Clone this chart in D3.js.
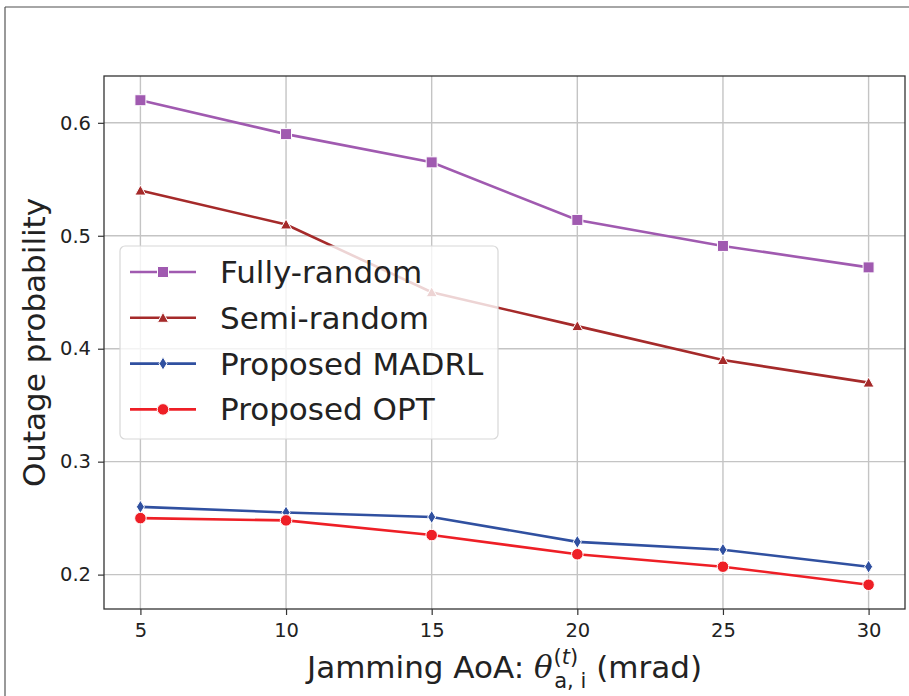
<!DOCTYPE html>
<html>
<head>
<meta charset="utf-8">
<script src="https://cdn.jsdelivr.net/npm/d3@7"></script>
<style>
  body { margin: 0; background: #fff; }
  svg text { font-family: "DejaVu Sans", sans-serif; fill: #222; }
</style>
</head>
<body>
<svg id="chart" width="909" height="696"></svg>
<script>
// jamming AoA (mrad)
const aoa = [5, 10, 15, 20, 25, 30];
const fullyRandom = [0.62, 0.59, 0.565, 0.514, 0.491, 0.472];
const semiRandom = [0.54, 0.51, 0.45, 0.42, 0.39, 0.37];
const proposedMadrl = [0.26, 0.255, 0.251, 0.229, 0.222, 0.207];
const proposedOpt = [0.25, 0.248, 0.235, 0.218, 0.207, 0.191];
const seriesNames = ["Fully-random", "Semi-random", "Proposed MADRL", "Proposed OPT"];
const xTicks = [5, 10, 15, 20, 25, 30];
const yTicks = [0.2, 0.3, 0.4, 0.5, 0.6];

const series = [
  {name: seriesNames[0], values: fullyRandom, color: "#a05ab0", marker: "square"},
  {name: seriesNames[1], values: semiRandom, color: "#a52a2a", marker: "triangle"},
  {name: seriesNames[2], values: proposedMadrl, color: "#3050a0", marker: "diamond"},
  {name: seriesNames[3], values: proposedOpt, color: "#ee1f26", marker: "circle"}
];

const svg = d3.select("#chart");
const m = {left: 104, right: 905, top: 76, bottom: 609};

// outer frame (only top and left visible)
svg.append("line").attr("x1", 5).attr("x2", 909).attr("y1", 7).attr("y2", 7)
  .attr("stroke", "#888").attr("stroke-width", 1.5);
svg.append("line").attr("x1", 5).attr("x2", 5).attr("y1", 7).attr("y2", 696)
  .attr("stroke", "#555").attr("stroke-width", 1.2);

const allVals = series.flatMap(s => s.values);
const ymin = d3.min(allVals), ymax = d3.max(allVals);
const ypad = (ymax - ymin) * 0.05;
const xpad = (d3.max(aoa) - d3.min(aoa)) * 0.05;

const x = d3.scaleLinear().domain([d3.min(aoa) - xpad, d3.max(aoa) + xpad]).range([m.left, m.right]);
const y = d3.scaleLinear().domain([ymin - ypad, ymax + ypad]).range([m.bottom, m.top]);

// grid
const grid = svg.append("g");
grid.selectAll(".gx").data(xTicks).enter().append("line")
  .attr("x1", d => x(d)).attr("x2", d => x(d)).attr("y1", m.top).attr("y2", m.bottom)
  .attr("stroke", "#c4c4c4").attr("stroke-width", 1.4);
grid.selectAll(".gy").data(yTicks).enter().append("line")
  .attr("y1", d => y(d)).attr("y2", d => y(d)).attr("x1", m.left).attr("x2", m.right)
  .attr("stroke", "#c4c4c4").attr("stroke-width", 1.4);

// axes
const xAxis = svg.append("g").attr("transform", "translate(0," + m.bottom + ")")
  .call(d3.axisBottom(x).tickValues(xTicks).tickSize(6).tickPadding(8).tickFormat(d3.format("d")));
const yAxis = svg.append("g").attr("transform", "translate(" + m.left + ",0)")
  .call(d3.axisLeft(y).tickValues(yTicks).tickSize(6).tickPadding(7).tickFormat(d3.format(".1f")));
[xAxis, yAxis].forEach(a => {
  a.select(".domain").remove();
  a.selectAll(".tick line").attr("stroke", "#333").attr("stroke-width", 1.2);
  a.selectAll(".tick text").style("font-size", "19.5px").attr("fill", "#222");
});

// spines
svg.append("rect").attr("x", m.left).attr("y", m.top)
  .attr("width", m.right - m.left).attr("height", m.bottom - m.top)
  .attr("fill", "none").attr("stroke", "#333").attr("stroke-width", 1.3);

function markerPath(type) {
  if (type === "square") return "M-5.5,-5.5H5.5V5.5H-5.5Z";
  if (type === "triangle") return "M0,-5.5L5.5,4.5L-5.5,4.5Z";
  if (type === "diamond") return "M0,-6.5L4,0L0,6.5L-4,0Z";
  return d3.symbol().type(d3.symbolCircle).size(105)();
}

const line = d3.line().x((d, i) => x(aoa[i])).y(d => y(d));
const plot = svg.append("g");
series.forEach(s => {
  plot.append("path").datum(s.values).attr("d", line)
    .attr("fill", "none").attr("stroke", s.color).attr("stroke-width", 2.6);
  plot.selectAll(null).data(s.values).enter().append("path")
    .attr("transform", (d, i) => "translate(" + x(aoa[i]) + "," + y(d) + ")")
    .attr("d", markerPath(s.marker))
    .attr("fill", s.color).attr("stroke", "#fff").attr("stroke-width", 1);
});

// legend
const lg = svg.append("g").attr("transform", "translate(120,246)");
lg.append("rect").attr("width", 378).attr("height", 193).attr("rx", 5)
  .attr("fill", "#fff").attr("fill-opacity", 0.8).attr("stroke", "#d8d8d8").attr("stroke-width", 1.2);
series.forEach((s, i) => {
  const yy = 26 + i * 45.8;
  lg.append("line").attr("x1", 10).attr("x2", 76).attr("y1", yy).attr("y2", yy)
    .attr("stroke", s.color).attr("stroke-width", 2.6);
  lg.append("path").attr("transform", "translate(43," + yy + ")")
    .attr("d", markerPath(s.marker)).attr("fill", s.color).attr("stroke", "#fff").attr("stroke-width", 1);
  lg.append("text").attr("x", 100).attr("y", yy + 11).style("font-size", "31px").text(s.name);
});

// axis labels
svg.append("text").attr("transform", "translate(45," + ((m.top + m.bottom) / 2) + ") rotate(-90)")
  .attr("text-anchor", "middle").style("font-size", "31px").text("Outage probability");

const xl = svg.append("text").attr("x", (m.left + m.right) / 2).attr("y", 678)
  .attr("text-anchor", "middle").style("font-size", "31px");
xl.append("tspan").text("Jamming AoA: ");
xl.append("tspan").style("font-style", "italic").style("font-family", "'DejaVu Serif', serif").text("θ");
xl.append("tspan").attr("dy", -14).attr("dx", 1).style("font-size", "21px").text("(");
xl.append("tspan").style("font-size", "21px").style("font-style", "italic").text("t");
xl.append("tspan").style("font-size", "21px").text(")");
xl.append("tspan").attr("dx", -24).attr("dy", 24).style("font-size", "21px").text("a, i");
xl.append("tspan").attr("dy", -10).text(" (mrad)");
</script>
</body>
</html>
